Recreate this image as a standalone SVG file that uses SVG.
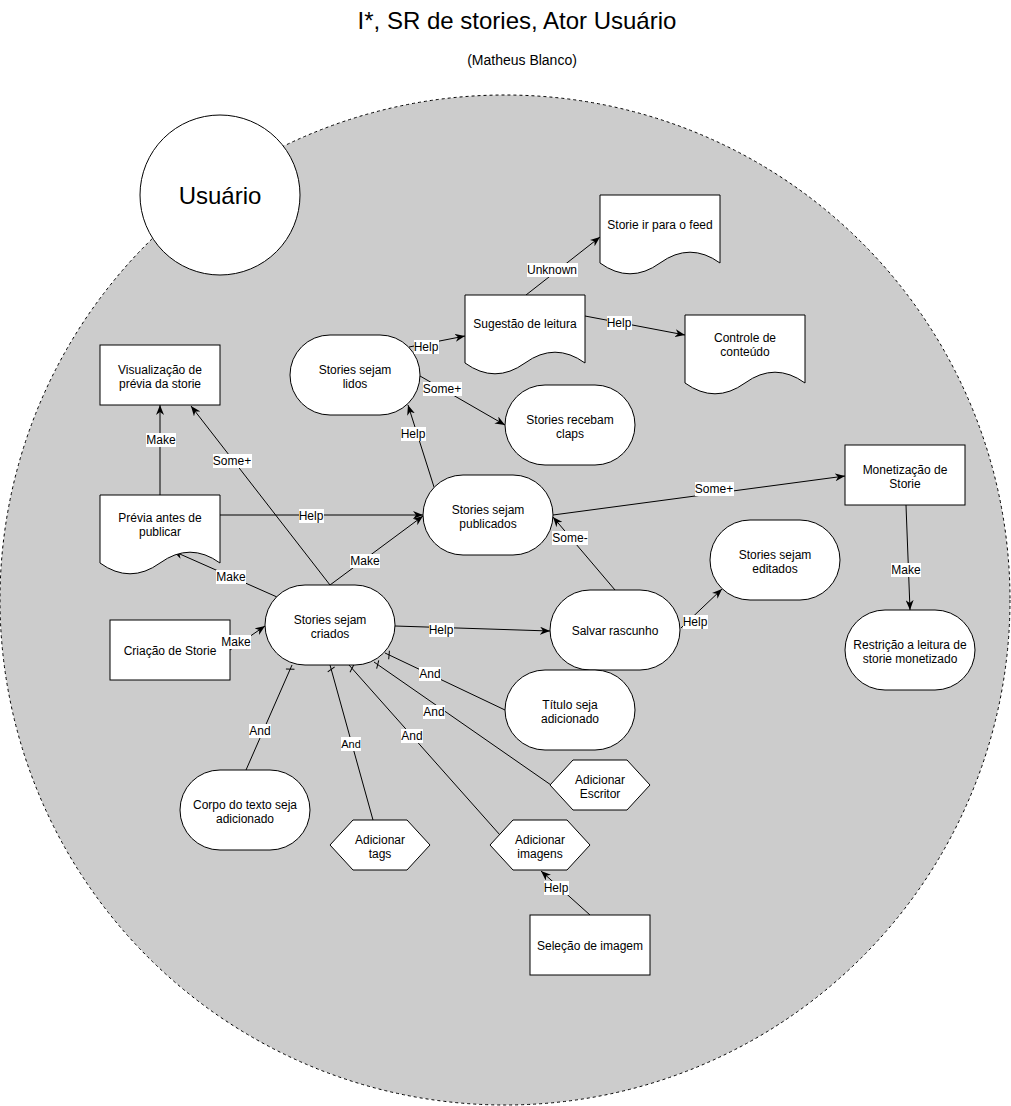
<svg xmlns="http://www.w3.org/2000/svg" width="1011" height="1106" viewBox="0 0 1011 1106">
<style>
text{font-family:"Liberation Sans",Arial,Helvetica,sans-serif;fill:#000;text-anchor:middle}
.n{font-size:12px}
.l{font-size:12px}
.s{fill:#fff;stroke:#000;stroke-width:1}
.e{fill:none;stroke:#000;stroke-width:1}
.bg{fill:#fff}
</style>
<defs>
<marker id="arr" markerUnits="userSpaceOnUse" markerWidth="10" markerHeight="8" viewBox="0 0 10 8" refX="10" refY="4" orient="auto">
<path d="M0,0 L10,4 L0,8 L3,4 Z" fill="#000"/>
</marker>
<marker id="dash" markerUnits="userSpaceOnUse" markerWidth="12" markerHeight="12" viewBox="0 -6 12 12" refX="12" refY="0" orient="auto">
<path d="M6,-4 L9,4" stroke="#000" stroke-width="1" fill="none"/>
</marker>
</defs>
<rect width="1011" height="1106" fill="#fff"/>
<text x="517" y="29" style="font-size:24px">I*, SR de stories, Ator Usuário</text>
<text x="522" y="65" style="font-size:14px">(Matheus Blanco)</text>
<g id="boundary">
<circle cx="505" cy="600" r="505" fill="#cccccc" stroke="#000" stroke-width="1" stroke-dasharray="3,3"/>
</g>
<g id="actor">
<circle cx="220" cy="195" r="80" class="s"/>
<text x="220" y="204" style="font-size:24px">Usuário</text>
</g>
<g id="connectors">
<line class="e" x1="526" y1="295" x2="600" y2="237" marker-end="url(#arr)"/>
<line class="e" x1="585" y1="316" x2="685" y2="335" marker-end="url(#arr)"/>
<line class="e" x1="409" y1="347" x2="465" y2="336" marker-end="url(#arr)"/>
<line class="e" x1="420" y1="376" x2="505" y2="425" marker-end="url(#arr)"/>
<line class="e" x1="434" y1="487" x2="408" y2="405" marker-end="url(#arr)"/>
<line class="e" x1="160" y1="495" x2="160" y2="405" marker-end="url(#arr)"/>
<line class="e" x1="330" y1="585" x2="191" y2="406" marker-end="url(#arr)"/>
<line class="e" x1="220" y1="515" x2="423" y2="515" marker-end="url(#arr)"/>
<line class="e" x1="330" y1="585" x2="423" y2="516" marker-end="url(#arr)"/>
<line class="e" x1="277" y1="597" x2="173" y2="551" marker-end="url(#arr)"/>
<line class="e" x1="230" y1="650" x2="265" y2="626" marker-end="url(#arr)"/>
<line class="e" x1="395" y1="626" x2="550" y2="631" marker-end="url(#arr)"/>
<line class="e" x1="553" y1="515" x2="845" y2="476" marker-end="url(#arr)"/>
<line class="e" x1="615" y1="590" x2="553" y2="517" marker-end="url(#arr)"/>
<line class="e" x1="906" y1="505" x2="910" y2="610" marker-end="url(#arr)"/>
<line class="e" x1="681" y1="628" x2="722" y2="589" marker-end="url(#arr)"/>
<line class="e" x1="590" y1="915" x2="541" y2="871" marker-end="url(#arr)"/>
<line class="e" x1="505" y1="710" x2="385" y2="653" marker-end="url(#dash)"/>
<line class="e" x1="551" y1="785" x2="374" y2="662" marker-end="url(#dash)"/>
<line class="e" x1="500" y1="835" x2="349" y2="665" marker-end="url(#dash)"/>
<line class="e" x1="373" y1="820" x2="330" y2="665" marker-end="url(#dash)"/>
<line class="e" x1="246" y1="770" x2="292" y2="665" marker-end="url(#dash)"/>
</g>
<g id="n-feed"><path class="s" d="M600,195 H720 V263 Q690,241.4 660,263 Q630,284.6 600,263 Z"/><text class="n" x="660" y="229">Storie ir para o feed</text></g>
<g id="n-sugestao"><path class="s" d="M465,295 H585 V363 Q555,341.4 525,363 Q495,384.6 465,363 Z"/><text class="n" x="525" y="328">Sugestão de leitura</text></g>
<g id="n-controle"><path class="s" d="M685,315 H805 V383 Q775,361.4 745,383 Q715,404.6 685,383 Z"/><text class="n" x="745" y="342">Controle de</text><text class="n" x="745" y="356">conteúdo</text></g>
<g id="n-visualizacao"><rect class="s" x="100" y="345" width="120" height="60"/><text class="n" x="160" y="374">Visualização de</text><text class="n" x="160" y="388">prévia da storie</text></g>
<g id="n-lidos"><rect class="s" x="290" y="335" width="130" height="80" rx="40" ry="40"/><text class="n" x="355" y="374">Stories sejam</text><text class="n" x="355" y="388">lidos</text></g>
<g id="n-claps"><rect class="s" x="505" y="385" width="130" height="80" rx="40" ry="40"/><text class="n" x="570" y="424">Stories recebam</text><text class="n" x="570" y="438">claps</text></g>
<g id="n-publicados"><rect class="s" x="423" y="475" width="130" height="80" rx="40" ry="40"/><text class="n" x="488" y="514">Stories sejam</text><text class="n" x="488" y="528">publicados</text></g>
<g id="n-previa"><path class="s" d="M100,495 H220 V563 Q190,541.4 160,563 Q130,584.6 100,563 Z"/><text class="n" x="160" y="522">Prévia antes de</text><text class="n" x="160" y="536">publicar</text></g>
<g id="n-monetizacao"><rect class="s" x="845" y="445" width="120" height="60"/><text class="n" x="905" y="474">Monetização de</text><text class="n" x="905" y="488">Storie</text></g>
<g id="n-editados"><rect class="s" x="710" y="520" width="130" height="80" rx="40" ry="40"/><text class="n" x="775" y="559">Stories sejam</text><text class="n" x="775" y="573">editados</text></g>
<g id="n-criados"><rect class="s" x="265" y="585" width="130" height="80" rx="40" ry="40"/><text class="n" x="330" y="624">Stories sejam</text><text class="n" x="330" y="638">criados</text></g>
<g id="n-salvar"><rect class="s" x="550" y="590" width="130" height="80" rx="40" ry="40"/><text class="n" x="615" y="635">Salvar rascunho</text></g>
<g id="n-criacao"><rect class="s" x="110" y="620" width="120" height="60"/><text class="n" x="170" y="655">Criação de Storie</text></g>
<g id="n-restricao"><rect class="s" x="845" y="610" width="130" height="80" rx="40" ry="40"/><text class="n" x="910" y="649">Restrição a leitura de</text><text class="n" x="910" y="663">storie monetizado</text></g>
<g id="n-titulo"><rect class="s" x="505" y="670" width="130" height="80" rx="40" ry="40"/><text class="n" x="570" y="709">Título seja</text><text class="n" x="570" y="723">adicionado</text></g>
<g id="n-escritor"><path class="s" d="M550,785 L573,760 H627 L650,785 L627,810 H573 Z"/><text class="n" x="600" y="784">Adicionar</text><text class="n" x="600" y="798">Escritor</text></g>
<g id="n-corpo"><rect class="s" x="180" y="770" width="130" height="80" rx="40" ry="40"/><text class="n" x="245" y="809">Corpo do texto seja</text><text class="n" x="245" y="823">adicionado</text></g>
<g id="n-tags"><path class="s" d="M330,845 L353,820 H407 L430,845 L407,870 H353 Z"/><text class="n" x="380" y="844">Adicionar</text><text class="n" x="380" y="858">tags</text></g>
<g id="n-imagens"><path class="s" d="M490,845 L513,820 H567 L590,845 L567,870 H513 Z"/><text class="n" x="540" y="844">Adicionar</text><text class="n" x="540" y="858">imagens</text></g>
<g id="n-selecao"><rect class="s" x="530" y="915" width="120" height="60"/><text class="n" x="590" y="950">Seleção de imagem</text></g>
<g id="connector-labels">
<rect class="bg" x="527" y="263" width="51" height="14"/><text class="l" x="552" y="274">Unknown</text>
<rect class="bg" x="607" y="316" width="25" height="14"/><text class="l" x="619" y="327">Help</text>
<rect class="bg" x="414" y="340" width="25" height="14"/><text class="l" x="426" y="351">Help</text>
<rect class="bg" x="423" y="382" width="39" height="14"/><text class="l" x="442" y="393">Some+</text>
<rect class="bg" x="401" y="427" width="25" height="14"/><text class="l" x="413" y="438">Help</text>
<rect class="bg" x="146" y="433" width="30" height="14"/><text class="l" x="161" y="444">Make</text>
<rect class="bg" x="213" y="454" width="39" height="14"/><text class="l" x="232" y="465">Some+</text>
<rect class="bg" x="299" y="509" width="25" height="14"/><text class="l" x="311" y="520">Help</text>
<rect class="bg" x="350" y="554" width="30" height="14"/><text class="l" x="365" y="565">Make</text>
<rect class="bg" x="216" y="570" width="30" height="14"/><text class="l" x="231" y="581">Make</text>
<rect class="bg" x="221" y="635" width="30" height="14"/><text class="l" x="236" y="646">Make</text>
<rect class="bg" x="429" y="623" width="25" height="14"/><text class="l" x="441" y="634">Help</text>
<rect class="bg" x="695" y="482" width="39" height="14"/><text class="l" x="714" y="493">Some+</text>
<rect class="bg" x="552" y="531" width="36" height="14"/><text class="l" x="570" y="542">Some-</text>
<rect class="bg" x="891" y="563" width="30" height="14"/><text class="l" x="906" y="574">Make</text>
<rect class="bg" x="683" y="615" width="25" height="14"/><text class="l" x="695" y="626">Help</text>
<rect class="bg" x="544" y="881" width="25" height="14"/><text class="l" x="556" y="892">Help</text>
<rect class="bg" x="419" y="667" width="22" height="14"/><text class="l" x="430" y="678">And</text>
<rect class="bg" x="423" y="705" width="22" height="14"/><text class="l" x="434" y="716">And</text>
<rect class="bg" x="401" y="729" width="22" height="14"/><text class="l" x="412" y="740">And</text>
<rect class="bg" x="341" y="737" width="20" height="14"/><text x="351" y="748" style="font-size:11px">And</text>
<rect class="bg" x="249" y="724" width="22" height="14"/><text class="l" x="260" y="735">And</text>
</g>
</svg>
